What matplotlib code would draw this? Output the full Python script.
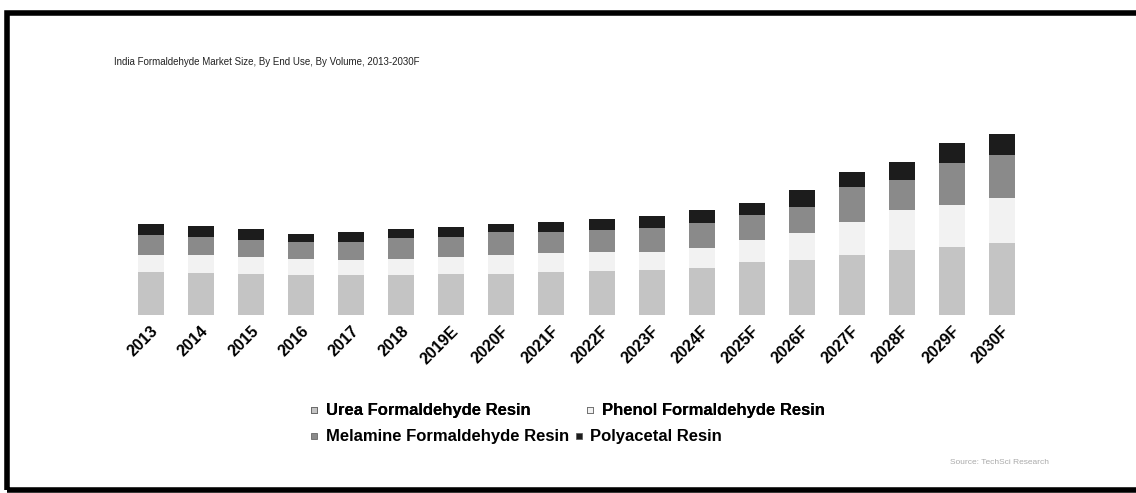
import matplotlib
matplotlib.use('Agg')
import matplotlib.pyplot as plt
import matplotlib.transforms as mtransforms
from matplotlib.lines import Line2D
from matplotlib.patches import Rectangle
import numpy as np

plt.rcParams['font.family'] = ['Liberation Sans', 'DejaVu Sans']

years = ['2013', '2014', '2015', '2016', '2017', '2018', '2019E', '2020F', '2021F',
         '2022F', '2023F', '2024F', '2025F', '2026F', '2027F', '2028F', '2029F', '2030F']

# (no axis shown, relative volumes)
urea = [43, 42, 41, 40, 40, 40, 41, 41, 43, 44, 45, 47, 53, 55, 60, 65, 68, 72]
phenol = [17, 18, 17, 16, 15, 16, 17, 19, 19, 19, 18, 20, 22, 27, 33, 40, 42, 45]
melamine = [20, 18, 17, 17, 18, 21, 20, 23, 21, 22, 24, 25, 25, 26, 35, 30, 42, 43]
polyacetal = [11, 11, 11, 8, 10, 9, 10, 8, 10, 11, 12, 13, 12, 17, 15, 18, 20, 21]

series = ['Urea Formaldehyde Resin', 'Phenol Formaldehyde Resin',
          'Melamine Formaldehyde Resin', 'Polyacetal Resin']
colors = ['#c4c4c4', '#f2f2f2', '#8a8a8a', '#1c1c1c']

W, H = 1136, 493
fig = plt.figure(figsize=(W / 100, H / 100), dpi=100)
ax = fig.add_axes([126 / W, (H - 315) / H, 901 / W, 200 / H])

x = np.arange(len(years))
bottom = np.zeros(len(years))
for vals, col in zip([urea, phenol, melamine, polyacetal], colors):
    ax.bar(x, vals, 0.52, bottom=bottom, color=col, edgecolor='none')
    bottom += np.array(vals)

ax.set_xlim(-0.5, len(years) - 0.5)
ax.set_ylim(0, 200)
for s in ax.spines.values():
    s.set_visible(False)
ax.set_yticks([])
ax.set_xticks(x)
ax.set_xticklabels(years, rotation=45, ha='right', va='center',
                   rotation_mode='anchor', fontsize=11.5, fontweight='bold')
ax.tick_params(axis='x', length=0, pad=10)
offset = mtransforms.ScaledTranslation(5 / 100, 0, fig.dpi_scale_trans)
for lbl in ax.get_xticklabels():
    lbl.set_transform(lbl.get_transform() + offset)

fig.text(114 / W, 1 - 62 / H, 'India Formaldehyde Market Size, By End Use, By Volume, 2013-2030F',
         fontsize=7, va='center', ha='left', color='#222222')

handles = [Line2D([], [], marker='s', linestyle='none', markersize=5,
                  markerfacecolor=c, markeredgecolor='#555555', markeredgewidth=0.5)
           for c in colors]

leg1 = fig.legend(handles[:2], series[:2], ncol=2, loc='center left',
                  bbox_to_anchor=(299 / W, 1 - 411 / H), frameon=False,
                  prop={'size': 12, 'weight': 'bold'}, handletextpad=0.3,
                  handlelength=0.8, columnspacing=3.2, borderpad=0)
leg2 = fig.legend(handles[2:], series[2:], ncol=2, loc='center left',
                  bbox_to_anchor=(299 / W, 1 - 437 / H), frameon=False,
                  prop={'size': 12, 'weight': 'bold'}, handletextpad=0.3,
                  handlelength=0.8, columnspacing=0.2, borderpad=0)
fig.add_artist(leg1)

fig.text(950 / W, 1 - 463 / H, 'Source: TechSci Research', fontsize=6,
         color='#aaaaaa', va='center', ha='left')

# scanned page frame
fig.add_artist(Rectangle((7 / W, 3 / H), 1.1, 1 - 16 / H, transform=fig.transFigure,
                         fill=False, lw=4, edgecolor='black'))

fig.savefig('out.png', dpi=100)
